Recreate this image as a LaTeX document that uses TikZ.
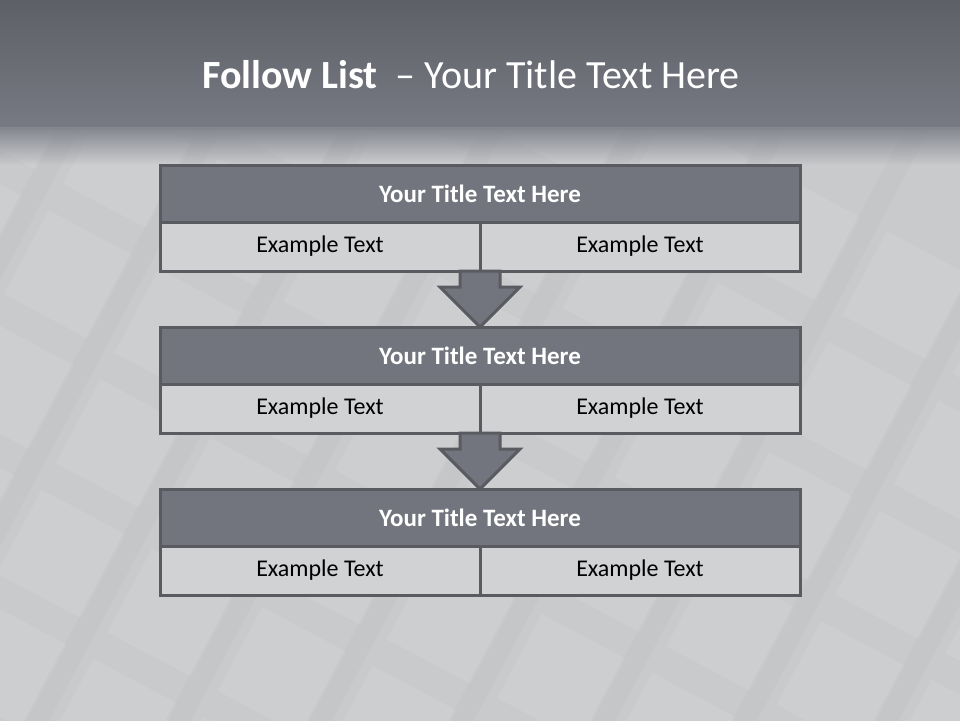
\documentclass[tikz,border=0pt]{standalone}
\usepackage{fontspec}
\setmainfont{Carlito}
\usetikzlibrary{positioning}
\usetikzlibrary{fadings}

\definecolor{barfill}{HTML}{72757D}
\definecolor{barline}{HTML}{595B61}
\definecolor{cellfill}{HTML}{D1D2D4}
\definecolor{bandtop}{HTML}{5A5C62}
\definecolor{bandbottom}{HTML}{777A83}
\definecolor{floor}{HTML}{C9CACC}

\begin{document}
\begin{tikzpicture}[x=1pt, y=-1pt,
                          titlebar/.style={rectangle, draw=barline, fill=barfill, line width=3pt, outer sep=0pt,
                                           minimum width=640pt, minimum height=57pt, text=white,
                                           font=\fontsize{25}{30}\selectfont\bfseries},
                          cellbox/.style={rectangle, draw=barline, fill=cellfill, line width=3pt, outer sep=0pt,
                                          minimum width=320pt, minimum height=49pt,
                                          font=\fontsize{24}{29}\selectfont},
                          downarrow/.style={draw=barline, fill=barfill, line width=3pt},
                          heading/.style={text=white, font=\fontsize{40}{48}\selectfont},
                      ]
                      % Background
                      \useasboundingbox (0,0) rectangle (960,720);
                      \fill[floor] (-20,-20) rectangle (980,740);
                      \begin{scope}
                        \clip (0,128) rectangle (960,720);
                        \foreach \i in {-3,...,9}
                          \foreach \j in {0,...,7}
                            \fill[white, opacity=0.08, rotate around={-28:(480,400)}]
                              (\i*125+10,\j*125+60) rectangle ++(95,95);
                        \foreach \i in {-3,...,9}
                          \fill[black, opacity=0.02, rotate around={-28:(480,400)}]
                            (\i*125-22,-200) rectangle ++(22,1200);
                      \end{scope}
                      \shade[top color=bandtop, bottom color=bandbottom] (-20,-20) rectangle (980,128);
                      \fill[bandbottom!85!floor, path fading=south] (-40,127) rectangle (1000,165);

                      % Nodes
                      \node[heading]          (heading)    at (471,75)      {\textbf{Follow List}\ \ -- Your Title Text Here};

                      \node[titlebar]         (title_1)    at (480,193.5)   {Your Title Text Here};
                      \node[cellbox]          (left_1)     [below right=0pt of title_1.south west]  {Example Text};
                      \node[cellbox]          (right_1)    [right=0pt of left_1]                     {Example Text};

                      \node[titlebar]         (title_2)    [below=56pt of left_1.south east]         {Your Title Text Here};
                      \node[cellbox]          (left_2)     [below right=0pt of title_2.south west]  {Example Text};
                      \node[cellbox]          (right_2)    [right=0pt of left_2]                     {Example Text};

                      \node[titlebar]         (title_3)    [below=56pt of left_2.south east]         {Your Title Text Here};
                      \node[cellbox]          (left_3)     [below right=0pt of title_3.south west]  {Example Text};
                      \node[cellbox]          (right_3)    [right=0pt of left_3]                     {Example Text};

                      %Arrows
                      \draw[downarrow] ([xshift=-20pt]left_1.south east) -- ++(0,16) -- ++(-20,0) -- (title_2.north)
                                       -- ++(40,-40) -- ++(-20,0) -- ([xshift=20pt]left_1.south east) -- cycle;
                      \draw[downarrow] ([xshift=-20pt]left_2.south east) -- ++(0,16) -- ++(-20,0) -- (title_3.north)
                                       -- ++(40,-40) -- ++(-20,0) -- ([xshift=20pt]left_2.south east) -- cycle;
                  \end{tikzpicture}
\end{document}
